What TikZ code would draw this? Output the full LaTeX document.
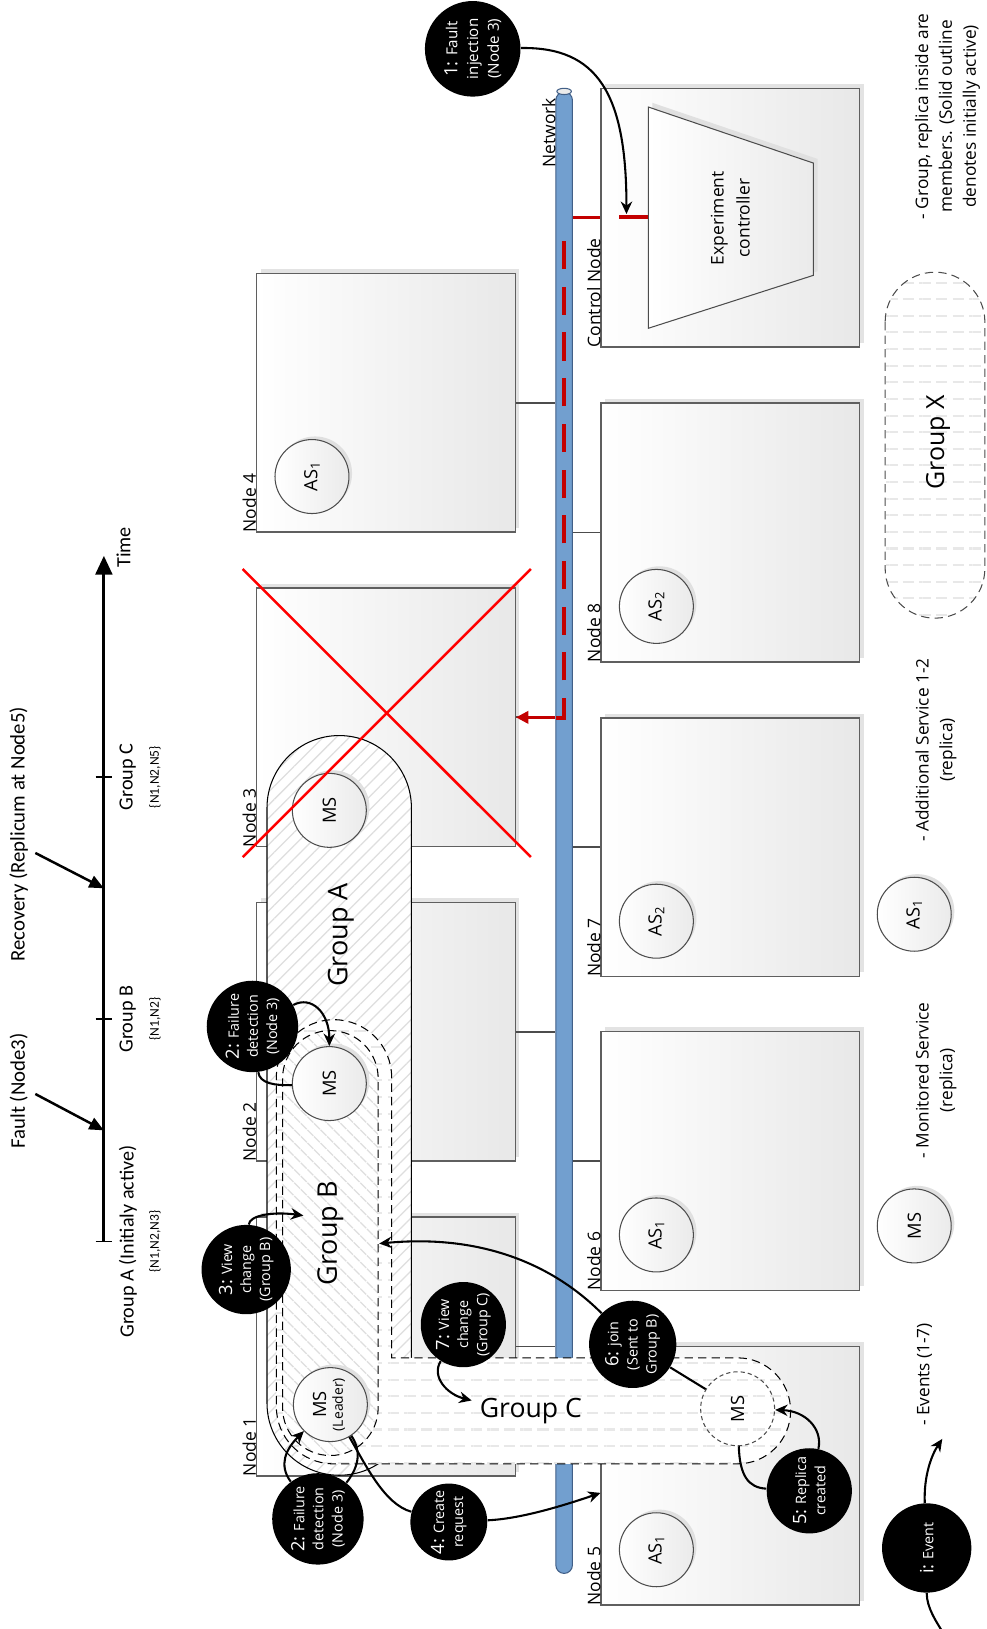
\documentclass[tikz,border=0pt]{standalone}
\usepackage{fontspec}
\setmainfont{Open Sans}
\newfontfamily\tlfont{Carlito}
\usetikzlibrary{arrows.meta,shadows,patterns.meta,calc}
\definecolor{pipeblue}{RGB}{114,159,207}
\definecolor{pipeedge}{RGB}{65,95,135}
\definecolor{boxedge}{RGB}{95,95,95}
\definecolor{faultred}{RGB}{195,0,0}
\newcommand{\rtxt}[1]{\rotatebox{90}{#1}}
\newcommand{\evnum}[1]{{\fontsize{8.8}{8.8}\selectfont #1}}
\begin{document}
\begin{tikzpicture}[x=0.5pt,y=-0.5pt,
  box/.style={rectangle, draw=boxedge, line width=0.7pt, left color=white, right color=black!9, minimum width=124.5pt, minimum height=124.5pt, inner sep=0pt, general shadow={fill=black!11, shadow xshift=2pt, shadow yshift=2pt}},
  nlabel/.style={rotate=90, anchor=base west, inner sep=0pt, font=\fontsize{8.4}{10}\selectfont},
  svc/.style={circle, draw=black!70, line width=0.5pt, left color=white, right color=black!8, minimum size=35.6pt, inner sep=0pt, general shadow={fill=black!12, shadow xshift=1.5pt, shadow yshift=1.5pt}, font=\fontsize{8.8}{10}\selectfont},
  event/.style={circle, fill=black, text=white, inner sep=0pt, rotate=90, align=center, font=\fontsize{6.9}{9.2}\selectfont},
  evarrow/.style={line width=1pt, -{Stealth[length=6pt,width=5.5pt]}},
  evline/.style={line width=1pt},
  link/.style={draw=black!70, line width=0.9pt},
  grpdash/.style={dash pattern=on 4pt off 2.5pt, line width=0.5pt},
  legend/.style={rotate=90, align=center, font=\fontsize{8.3}{11.5}\selectfont},
  tl/.style={rotate=90, inner sep=0pt, font=\tlfont\fontsize{9.7}{10}\selectfont},
  tlarrow/.style={line width=1.2pt, -{Triangle[length=7pt,width=6pt]}},
  hatchA/.style={pattern={Lines[angle=45,distance=4.5pt,line width=0.6pt]}, pattern color=black!13},
  hatchB/.style={pattern={Lines[angle=-45,distance=4.5pt,line width=0.6pt]}, pattern color=black!13},
  stripes/.style={pattern={Lines[angle=0,distance=8pt,line width=1pt]}, pattern color=black!9},
]
\useasboundingbox (0,0) rectangle (950,1568);

% ---------- timeline ----------
\coordinate (tl0) at (100,1195);
\coordinate (tl1) at (100,535);
\draw[line width=1.4pt, -{Triangle[length=9pt,width=8pt]}] (tl0) -- (tl1);
\foreach \yy in {1195,981,748}{\draw[line width=0.9pt] (92,\yy) -- (108,\yy);}
\node[tl] (time) at (119,527) {Time};
\node[tl] (lgA) at (123,1195) {Group A (Initialy active)};
\node[tl, font=\tlfont\fontsize{6.5}{7}\selectfont] (mA) at (149,1195) {\{N1,N2,N3\}};
\node[tl] (lgB) at (123,981) {Group B};
\node[tl, font=\tlfont\fontsize{6.5}{7}\selectfont] (mB) at (149,981) {\{N1,N2\}};
\node[tl] (lgC) at (123,748) {Group C};
\node[tl, font=\tlfont\fontsize{6.5}{7}\selectfont] (mC) at (149,748) {\{N1,N2,N5\}};
\node[tl, font=\tlfont\fontsize{10}{11}\selectfont] (fault) at (18,1050) {Fault (Node3)};
\node[tl, font=\tlfont\fontsize{10}{11}\selectfont] (recov) at (18,803) {Recovery (Replicum at Node5)};
\coordinate (faultS) at (34,1053);
\coordinate (faultT) at (100,1088);
\coordinate (recS) at (34,821);
\coordinate (recT) at (100,855);
\draw[tlarrow] (faultS) -- (faultT);
\draw[tlarrow] (recS) -- (recT);

% ---------- machine boxes ----------
\node[box] (n4) at (371.5,387.5) {};
\node[box] (n3) at (371.5,690.5) {};
\node[box] (n2) at (371.5,993) {};
\node[box] (n1) at (371.5,1296) {};
\node[box] (cn) at (703,209.5) {};
\node[box] (n8) at (703,512.5) {};
\node[box] (n7) at (703,815.5) {};
\node[box] (n6) at (703,1117.5) {};
\node[box] (n5) at (703,1420.5) {};
\node[nlabel] at (n4.south west) {Node 4};
\node[nlabel] at (n3.south west) {Node 3};
\node[nlabel] at (n2.south west) {Node 2};
\node[nlabel] at (n1.south west) {Node 1};
\node[nlabel] at (cn.south west) {Control Node};
\node[nlabel] at (n8.south west) {Node 8};
\node[nlabel] at (n7.south west) {Node 7};
\node[nlabel] at (n6.south west) {Node 6};
\node[nlabel] at (n5.south west) {Node 5};

% ---------- network ----------
\node[rectangle, draw=pipeedge, fill=pipeblue, line width=0.5pt, minimum width=8pt, minimum height=713pt, rounded corners=4pt, inner sep=0pt] (net) at (543,801.5) {};
\foreach \n in {n4,n3,n2,n1}{\draw[link] (\n.east) -- (\n.east -| net.west);}
\foreach \n in {n8,n7,n6}{\draw[link] (\n.west) -- (\n.west -| net.east);}
\draw[draw=pipeedge, fill=black!8, line width=0.5pt] (net.north) ellipse [x radius=7, y radius=3];
\node[nlabel, anchor=base east] at ($(net.north west)+(0,6)$) {Network};

% ---------- experiment controller ----------
\fill[black!12, shift={(4,-4)}] (624,103) -- (783,157) -- (783,265) -- (624,316) -- cycle;
\draw[left color=white, right color=black!8, draw=black!70, line width=0.5pt] (624,103) -- (783,157) -- (783,265) -- (624,316) -- cycle;
\node[rotate=90, align=center, font=\fontsize{8.4}{12.5}\selectfont] (ctrl) at (703,210) {Experiment\\controller};
\coordinate (trapL) at (624,209);
\coordinate (redS) at (596,209);
\coordinate (inj) at (603,206);

% ---------- fault path (red) ----------
\draw[faultred, line width=1.6pt] (net.east |- cn.west) -- (cn.west);
\draw[faultred, line width=1.6pt] (redS) -- (trapL);
\draw[faultred, line width=1.6pt, dash pattern=on 13.5pt off 8.5pt] (535,691) -- (543,691) -- (543,218);
\draw[faultred, line width=1.3pt, -{Triangle[length=6pt,width=6pt]}] (net.west |- n3.east) -- (n3.east);

% ---------- additional services ----------
\node[svc] (as4) at ($(n4.south west)+(54,-54)$) {\rtxt{AS\textsubscript{1}}};
\node[svc] (as8) at ($(n8.south west)+(54,-54)$) {\rtxt{AS\textsubscript{2}}};
\node[svc] (as7) at ($(n7.south west)+(54,-54)$) {\rtxt{AS\textsubscript{2}}};
\node[svc] (as6) at ($(n6.south west)+(54,-54)$) {\rtxt{AS\textsubscript{1}}};
\node[svc] (as5) at ($(n5.south west)+(54,-54)$) {\rtxt{AS\textsubscript{1}}};

% ---------- groups ----------
\path[draw=black, line width=0.5pt, preaction={fill=white}, hatchA, rounded corners=34.75pt] (257,708) rectangle (396,1420);
\path[draw=black, grpdash, preaction={fill=white}, stripes]
  (377,1037) arc[start angle=0, end angle=-180, radius=55.5] -- (266,1354)
  arc[start angle=180, end angle=90, radius=55] -- (710,1409)
  arc[start angle=90, end angle=-90, radius=51] -- (377,1307) -- cycle;
\path[draw=black, grpdash, preaction={fill=white}, hatchB, rounded corners=23pt] (272,992) rectangle (364,1401);

\node[rotate=90, font=\fontsize{13}{13}\selectfont] (gA) at (328,900) {Group A};
\node[rotate=90, font=\fontsize{13}{13}\selectfont] (gB) at (318,1187) {Group B};
\node[font=\fontsize{12.8}{13}\selectfont] (gC) at (511,1358) {Group C};

% ---------- monitored services ----------
\node[svc] (ms3) at (317,780) {\rtxt{MS}};
\node[svc] (ms2) at (317,1043) {\rtxt{MS}};
\node[svc] (ms1) at (318,1352) {\rtxt{\begin{tabular}{@{}c@{}}MS\\[-2pt]{\fontsize{6.7}{7}\selectfont(Leader)}\end{tabular}}};
\node[circle, draw=black!70, dash pattern=on 2pt off 1.5pt, line width=0.5pt, minimum size=35.6pt, inner sep=0pt, font=\fontsize{8.8}{10}\selectfont] (ms5) at (710,1356) {\rtxt{MS}};

% ---------- crash mark ----------
\draw[red, line width=1.2pt] (233.6,547.7) -- (511,825);
\draw[red, line width=1.2pt] (511,547.7) -- (233.6,825);

% ---------- events ----------
\node[event, minimum size=46pt, font=\fontsize{7.3}{10}\selectfont] (c1) at (455,47) {\evnum{1:} Fault\\injection\\(Node 3)};
\node[event, minimum size=44pt] (c2a) at (243,988) {\evnum{2:} Failure\\detection\\(Node 3)};
\node[event, minimum size=43pt] (c3) at (237,1222) {\evnum{3:} View\\change\\(Group B)};
\node[event, minimum size=44pt] (c2b) at (306,1462) {\evnum{2:} Failure\\detection\\(Node 3)};
\node[event, minimum size=37pt] (c4) at (432,1465) {\evnum{4:} Create\\request};
\node[event, minimum size=41pt] (c7) at (446,1275) {\evnum{7:} View\\change\\(Group C)};
\node[event, minimum size=42pt] (c6) at (609,1294) {\evnum{6:} join\\(Sent to\\Group B)};
\node[event, minimum size=41pt] (c5) at (779,1435) {\evnum{5:} Replica\\created};

\coordinate (gb3) at (292,1170);
\coordinate (n5in) at (578,1437);
\coordinate (gc7) at (454,1348);
\coordinate (gb6) at (365,1197);

\draw[evarrow] (c1) .. controls (575,45) and (603,90) .. (inj);
\draw[evarrow] (c2a) .. controls (300,958) and (317,975) .. (ms2);
\draw[evline] (c2a) .. controls (250,1043) and (265,1045) .. (ms2);
\draw[evarrow] (c3) .. controls (240,1170) and (262,1166) .. (gb3);
\draw[evarrow] (c2b) .. controls (268,1410) and (275,1395) .. (ms1);
\draw[evline] (c2b) .. controls (347,1410) and (347,1395) .. (ms1);
\draw[evline] (ms1) .. controls (352,1410) and (370,1448) .. (c4);
\draw[evarrow] (c4) .. controls (500,1462) and (540,1450) .. (n5in);
\draw[evarrow] (c7) .. controls (415,1325) and (430,1342) .. (gc7);
\draw[evline] (ms5) -- (c6);
\draw[evarrow] (c6) .. controls (530,1215) and (460,1188) .. (gb6);
\draw[evarrow] (c5) .. controls (792,1375) and (775,1358) .. (ms5);
\draw[evline] (c5) .. controls (720,1432) and (712,1420) .. (ms5);

% ---------- legend ----------
\path[draw=black!70, grpdash, preaction={fill=white}, stripes, rounded corners=24pt] (852,262) rectangle (948,595);
\node[rotate=90, font=\fontsize{12}{12}\selectfont] (gX) at (903,426) {Group X};
\node[legend] (lgX) at (912,112) {- Group, replica inside are\\members. (Solid outline\\denotes initially active)};
\node[svc] (lAS) at (880,880) {\rtxt{AS\textsubscript{1}}};
\node[legend] (lgAS) at (901,722) {- Additional Service 1-2\\(replica)};
\node[svc] (lMS) at (880,1180) {\rtxt{MS}};
\node[legend] (lgMS) at (901,1040) {- Monitored Service\\(replica)};
\node[event, minimum size=43pt] (ci) at (892,1490) {\evnum{i:} Event};
\node[legend] (lgEv) at (890,1323) {- Events (1-7)};
\coordinate (evtip) at (907,1385);
\coordinate (evtail) at (908,1572);
\draw[evarrow] (ci) .. controls (889,1420) and (897,1400) .. (evtip);
\draw[evline] (ci) .. controls (892,1548) and (902,1562) .. (evtail);
\end{tikzpicture}
\end{document}
